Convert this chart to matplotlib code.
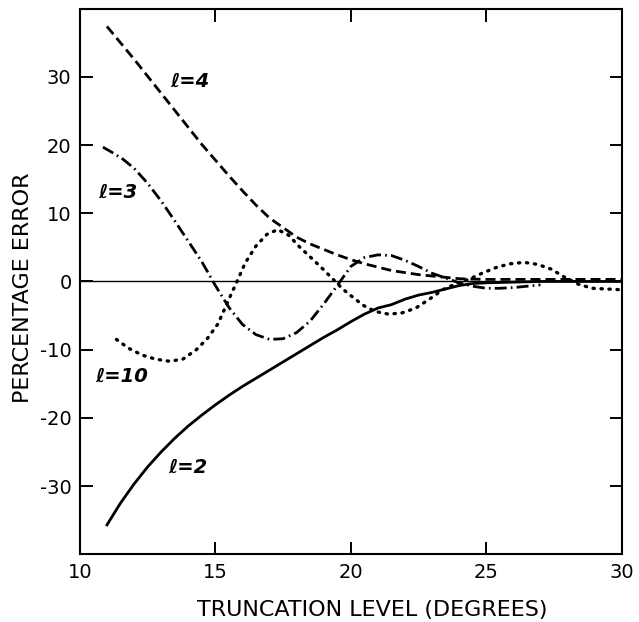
import matplotlib
matplotlib.use("Agg")
import matplotlib.pyplot as plt

# l = 2 (solid)
x_l2 = [11.0, 11.5, 12.0, 12.5, 13.0, 13.5, 14.0, 14.5, 15.0, 15.5, 16.0, 16.5, 17.0, 17.5,
        18.0, 18.5, 19.0, 19.5, 20.0, 20.5, 21.0, 21.5, 22.0, 22.5, 23.0, 23.5, 24.0, 24.5,
        25.0, 26.0, 27.0, 28.0, 29.0, 30.0]
y_l2 = [-35.7, -32.5, -29.7, -27.2, -25.0, -23.0, -21.2, -19.6, -18.1, -16.7, -15.4, -14.2, -13.0, -11.8,
        -10.6, -9.4, -8.2, -7.1, -5.9, -4.8, -3.9, -3.4, -2.6, -2.0, -1.6, -1.1, -0.6, -0.3,
        -0.2, -0.1, 0.0, 0.0, 0.0, 0.0]

# l = 4 (dashed)
x_l4 = [11.0, 11.5, 12.0, 12.5, 13.0, 13.5, 14.0, 14.5, 15.0, 15.5, 16.0, 16.5, 17.0, 17.5,
        18.0, 18.5, 19.0, 19.5, 20.0, 20.5, 21.0, 21.5, 22.0, 22.5, 23.0, 23.5, 24.0, 25.0,
        26.0, 27.0, 28.0, 29.0, 30.0]
y_l4 = [37.4, 35.0, 32.6, 30.1, 27.6, 25.1, 22.6, 20.1, 17.8, 15.5, 13.3, 11.2, 9.3, 7.9,
        6.5, 5.5, 4.7, 3.9, 3.2, 2.6, 2.1, 1.6, 1.3, 1.0, 0.8, 0.6, 0.4, 0.3,
        0.3, 0.3, 0.3, 0.3, 0.3]

# l = 3 (dash-dot)
x_l3 = [10.85, 11.2, 11.6, 12.0, 12.5, 13.0, 13.5, 14.0, 14.5, 15.0, 15.5, 16.0, 16.5, 17.0,
        17.5, 18.0, 18.5, 19.0, 19.5, 20.0, 20.5, 21.0, 21.5, 22.0, 22.5, 23.0, 23.5, 24.0,
        24.5, 25.0, 25.5, 26.0, 26.5, 27.0]
y_l3 = [19.7, 18.9, 17.9, 16.6, 14.4, 11.8, 8.9, 5.9, 2.9, -0.6, -3.8, -6.3, -7.8, -8.5,
        -8.4, -7.5, -5.8, -3.3, -0.6, 2.2, 3.5, 3.9, 3.8, 3.1, 2.2, 1.2, 0.5, -0.2,
        -0.7, -1.0, -1.0, -0.9, -0.7, -0.5]

# l = 10 (dotted)
x_l10 = [11.35, 11.8, 12.3, 12.8, 13.3, 13.8, 14.3, 14.7, 15.1, 15.5, 15.8, 16.1, 16.5, 16.9,
         17.3, 17.7, 18.1, 18.5, 18.9, 19.3, 19.7, 20.1, 20.5, 20.9, 21.4, 21.9, 22.4, 22.9,
         23.4, 23.9, 24.4, 24.9, 25.4, 25.9, 26.4, 26.9, 27.4, 27.9, 28.4, 28.9, 29.4, 29.9]
y_l10 = [-8.5, -9.8, -10.8, -11.4, -11.7, -11.4, -10.0, -8.4, -6.2, -2.6, 0.0, 2.7, 5.2, 6.9,
         7.6, 6.8, 5.1, 3.6, 2.1, 0.5, -1.1, -2.4, -3.6, -4.4, -4.8, -4.6, -3.9, -2.6,
         -1.2, -0.3, 0.4, 1.3, 2.1, 2.6, 2.8, 2.5, 1.8, 0.6, -0.4, -1.0, -1.1, -1.2]

x_ticks = [10, 15, 20, 25, 30]
y_ticks = [-30, -20, -10, 0, 10, 20, 30]
y_tick_labels = ["-30", "-20", "-10", "0", "10", "20", "30"]

curve_labels = ["ℓ=2", "ℓ=3", "ℓ=4", "ℓ=10"]
label_pos = [(14.0, -27.2), (11.4, 13.1), (14.05, 29.4), (11.55, -13.9)]

fig = plt.figure(figsize=(6.39, 6.22), dpi=100)
ax = fig.add_axes([0.125, 0.109, 0.848, 0.877])

ax.axhline(0, color="black", lw=1.0)
ax.plot(x_l2, y_l2, color="black", lw=2.0, ls="-")
ax.plot(x_l4, y_l4, color="black", lw=2.0, ls=(0, (3.6, 1.8)))
ax.plot(x_l3, y_l3, color="black", lw=2.0, ls=(0, (4.3, 1.5, 0.6, 1.5)))
ax.plot(x_l10, y_l10, color="black", lw=2.4, ls=(0, (0.4, 2.0)), dash_capstyle="round")

for t, (xx, yy) in zip(curve_labels, label_pos):
    ax.text(xx, yy, t, fontsize=14, fontstyle="italic", fontweight="bold",
            ha="center", va="center")

ax.set_xlim(10, 30)
ax.set_ylim(-40, 40)
ax.set_xticks(x_ticks)
ax.set_xticklabels([str(v) for v in x_ticks])
ax.set_yticks(y_ticks)
ax.set_yticklabels(y_tick_labels)
ax.tick_params(direction="in", length=9, width=1.4, top=True, right=True,
               labelsize=14, pad=6)
for s in ax.spines.values():
    s.set_linewidth(1.5)

ax.set_xlabel("TRUNCATION LEVEL (DEGREES)", fontsize=16, va="center")
ax.xaxis.set_label_coords(0.539, -0.103)
ax.set_ylabel("PERCENTAGE ERROR", fontsize=16, va="center")
ax.yaxis.set_label_coords(-0.105, 0.488)

fig.savefig("out.png", dpi=100)
